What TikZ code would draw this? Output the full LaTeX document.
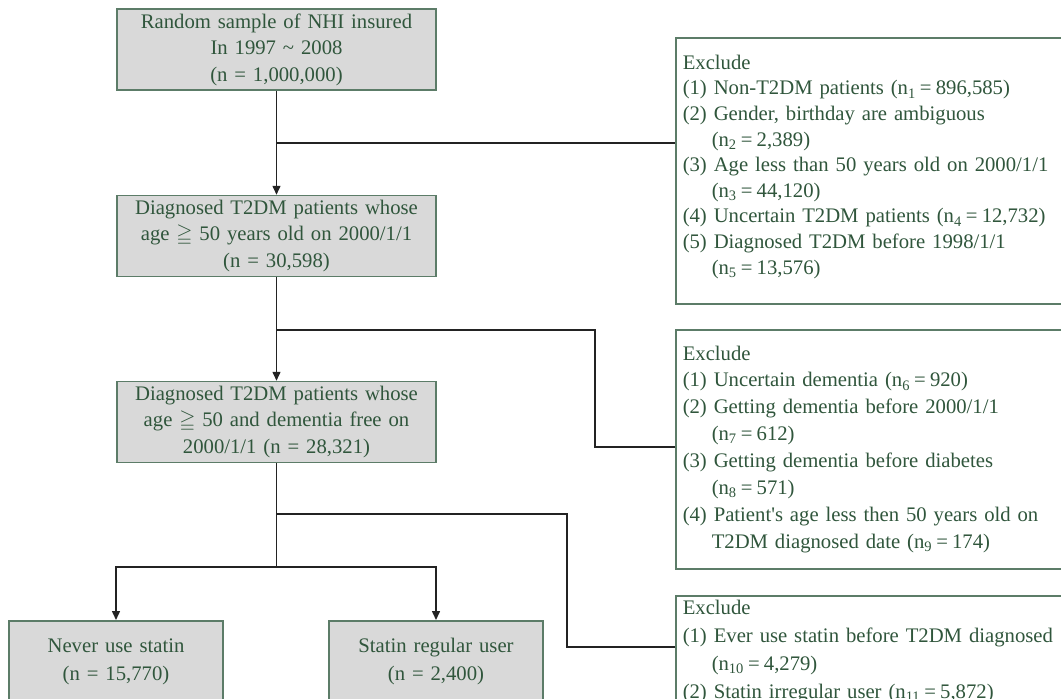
\documentclass[tikz,border=0pt]{standalone}
\usepackage{fontspec}
\setmainfont{Liberation Serif}
\usepackage{amssymb}
\usetikzlibrary{arrows.meta,calc}
\definecolor{txt}{RGB}{48,86,60}
\definecolor{bord}{RGB}{92,124,104}
\definecolor{boxfill}{RGB}{217,217,217}
\definecolor{conn}{RGB}{35,35,35}
\newcommand{\hind}{\hspace*{29pt}}
\newcommand{\eqs}{\hspace{0.2em}=\hspace{0.2em}}
\begin{document}
\begin{tikzpicture}[x=1pt,y=-1pt,
  mainbox/.style={draw=bord, line width=1.5pt, fill=boxfill, text=txt,
    font=\fontsize{20.7}{26.5}\selectfont, align=center, inner sep=0pt,
    text width=319pt, minimum height=81pt},
  outbox/.style={draw=bord, line width=1.5pt, fill=boxfill, text=txt,
    font=\fontsize{20.7}{28}\selectfont, align=center, inner sep=0pt,
    text width=214pt, minimum height=82pt},
  exbox/.style={draw=bord, line width=1.5pt, fill=white, text=txt,
    align=left, inner xsep=7pt, text width=400pt},
  conn/.style={draw=conn, line width=1.5pt},
  arr/.style={conn, -{Triangle[length=9pt,width=8pt]}}
]
\useasboundingbox (0,0) rectangle (1061,699);
\clip (0,0) rectangle (1061,699);

% main boxes
\node[mainbox] (b1) at (276.5,49.5) {Random sample of NHI insured\\In 1997 \textasciitilde{} 2008\\(n = 1,000,000)};
\node[mainbox] (b2) at (276.5,236) {Diagnosed T2DM patients whose\\age $\geqq$ 50 years old on 2000/1/1\\(n = 30,598)};
\node[mainbox] (b3) at (276.5,422) {Diagnosed T2DM patients whose\\age $\geqq$ 50 and dementia free on\\2000/1/1 (n = 28,321)};
\node[outbox, anchor=north] (nb) at (116,620) {Never use statin\\(n = 15,770)};
\node[outbox, anchor=north] (sb) at (436,620) {Statin regular user\\(n = 2,400)};

% exclusion boxes
\node[exbox, anchor=north west, minimum height=266pt, inner ysep=0pt,
  font=\fontsize{20.7}{25.6}\selectfont] (ex1) at (675,37) {Exclude\\
(1) Non-T2DM patients (n\textsubscript{1}\eqs 896,585)\\
(2) Gender, birthday are ambiguous\\
\hind(n\textsubscript{2}\eqs 2,389)\\
(3) Age less than 50 years old on 2000/1/1\\
\hind(n\textsubscript{3}\eqs 44,120)\\
(4) Uncertain T2DM patients (n\textsubscript{4}\eqs 12,732)\\
(5) Diagnosed T2DM before 1998/1/1\\
\hind(n\textsubscript{5}\eqs 13,576)\par\vspace{8pt}};

\node[exbox, anchor=north west, minimum height=239pt, inner ysep=0pt,
  font=\fontsize{20.7}{26.9}\selectfont] (ex2) at (675,329) {Exclude\\
(1) Uncertain dementia (n\textsubscript{6}\eqs 920)\\
(2) Getting dementia before 2000/1/1\\
\hind(n\textsubscript{7}\eqs 612)\\
(3) Getting dementia before diabetes\\
\hind(n\textsubscript{8}\eqs 571)\\
(4) Patient\textquotesingle s age less then 50 years old on\\
\hind T2DM diagnosed date (n\textsubscript{9}\eqs 174)};

\node[exbox, anchor=north west, inner ysep=4.5pt,
  font=\fontsize{20.7}{28}\selectfont] (ex3) at (675,595) {Exclude\\
(1) Ever use statin before T2DM diagnosed\\
\hind(n\textsubscript{10}\eqs 4,279)\\
(2) Statin irregular user (n\textsubscript{11}\eqs 5,872)\\
\mbox{}};

% junctions
\coordinate (j1) at (276.5,143);
\coordinate (j2) at (276.5,330);
\coordinate (k2) at (595,447);
\coordinate (j3) at (276.5,514);
\coordinate (k3) at (567,647);
\coordinate (j4) at (276.5,567);

% connectors
\draw[arr] (b1.south) -- (b2.north);
\draw[conn] (j1) -- (j1 -| ex1.west);
\draw[arr] (b2.south) -- (b3.north);
\draw[conn] (j2) -| (k2) -- (k2 -| ex2.west);
\draw[conn] (b3.south) -- (j4);
\draw[conn] (j3) -| (k3) -- (k3 -| ex3.west);
\draw[arr] (j4) -| (nb.north);
\draw[arr] (j4) -| (sb.north);
\end{tikzpicture}
\end{document}
